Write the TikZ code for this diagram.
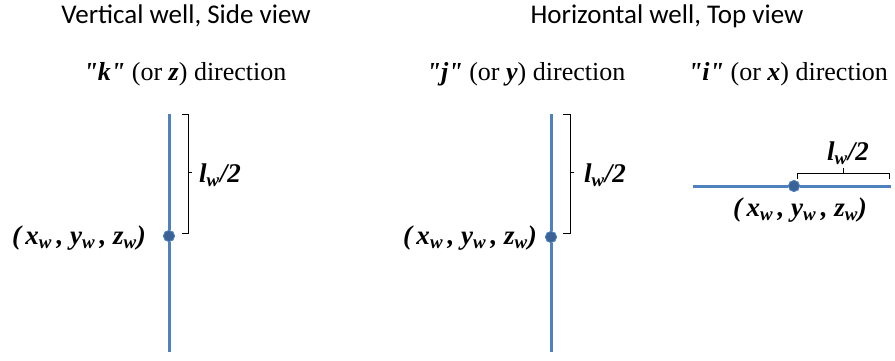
\documentclass[tikz,border=0pt]{standalone}
\usepackage{fontspec}
\setmainfont{Liberation Serif}
\newfontfamily\titlefont{Carlito}

\definecolor{wellblue}{RGB}{79,129,189}
\definecolor{dotblue}{RGB}{58,98,150}

\newcommand{\wpos}{\textbf{\textit{(\,x\textsubscript{w}\,, y\textsubscript{w}\,, z\textsubscript{w})}}}
\newcommand{\halflen}{\textbf{\textit{l\textsubscript{w}/2}}}
\newcommand{\qdir}[1]{\textbf{\textit{\textquotedbl#1\textquotedbl}}}

\begin{document}
\begin{tikzpicture}[x=1pt,y=-1pt,
		well/.style={wellblue,line width=3pt},
		wdot/.style={circle,fill=dotblue,draw=wellblue,line width=.8pt,inner sep=0pt,minimum size=11pt},
		brk/.style={black,line width=.6pt},
		ttl/.style={font=\titlefont\fontsize{27}{30}\selectfont},
		dir/.style={font=\fontsize{26}{29}\selectfont},
		lbl/.style={font=\fontsize{27}{30}\selectfont,inner sep=0pt}]
	\useasboundingbox (0,0) rectangle (895,360);
	
	% titles
	\node[ttl] (T1) at (186,16) {Vertical well, Side view};
	\node[ttl] (T2) at (667,16) {Horizontal well, Top view};
	\node[dir] (D1) at (185,74) {\qdir{k} (or \textbf{\textit{z}}) direction};
	\node[dir] (D2) at (526,74) {\qdir{j} (or \textbf{\textit{y}}) direction};
	\node[dir] (D3) at (788,74) {\qdir{i} (or \textbf{\textit{x}}) direction};
	
	% vertical well, side view
	\coordinate (A1) at (169,114);
	\coordinate (B1) at (169,352);
	\node[wdot] (W1) at (169,236) {};
	\draw[well] (A1)--(W1)--(B1);
	\node[wdot] at (W1) {};
	\draw[brk] (182,114)--(188,114)--(188,233)--(182,233);
	\draw[brk] (188,172)--(192,172);
	\node[lbl,anchor=west] (L1) at (199,175) {\halflen};
	\node[lbl,anchor=east] (P1) at (146,238) {\wpos};
	
	% horizontal well, top view (j direction)
	\coordinate (A2) at (551,114);
	\coordinate (B2) at (551,352);
	\node[wdot] (W2) at (551,237) {};
	\draw[well] (A2)--(W2)--(B2);
	\node[wdot] at (W2) {};
	\draw[brk] (563,114)--(570,114)--(570,233)--(563,233);
	\draw[brk] (570,172)--(574,172);
	\node[lbl,anchor=west] (L2) at (584,175) {\halflen};
	\node[lbl,anchor=east] (P2) at (537,238) {\wpos};
	
	% horizontal well, top view (i direction)
	\coordinate (A3) at (693,186);
	\coordinate (B3) at (891,186);
	\node[wdot] (W3) at (794,186) {};
	\draw[well] (A3)--(W3)--(B3);
	\node[wdot] at (W3) {};
	\draw[brk] (797,179)--(797,173)--(889,173)--(889,179);
	\draw[brk] (843,173)--(843,168);
	\node[lbl] (L3) at (848,153) {\halflen};
	\node[lbl] (P3) at (800,210) {\wpos};
\end{tikzpicture}
\end{document}
